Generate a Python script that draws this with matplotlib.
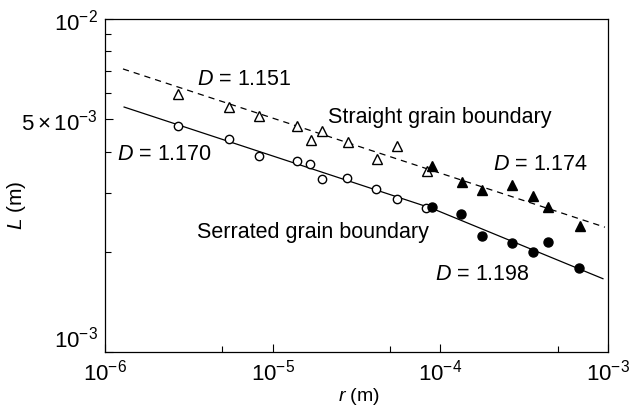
import matplotlib
matplotlib.use("Agg")
import matplotlib.pyplot as plt
from matplotlib.ticker import FixedLocator, NullFormatter, FixedFormatter

plt.rcParams['font.family'] = ['Liberation Sans', 'DejaVu Sans']
plt.rcParams['mathtext.fontset'] = 'custom'
plt.rcParams['mathtext.rm'] = 'Liberation Sans'
plt.rcParams['mathtext.it'] = 'Liberation Sans:italic'

# Straight grain boundary, open triangles
st_open_r = [2.72e-6, 5.49e-6, 8.28e-6, 1.40e-5, 1.69e-5, 1.97e-5, 2.81e-5, 4.19e-5, 5.51e-5, 8.32e-5]
st_open_L = [5.95e-3, 5.44e-3, 5.11e-3, 4.77e-3, 4.33e-3, 4.61e-3, 4.27e-3, 3.80e-3, 4.16e-3, 3.50e-3]
# Straight grain boundary, filled triangles
st_fill_r = [8.91e-5, 1.35e-4, 1.77e-4, 2.67e-4, 3.56e-4, 4.38e-4, 6.79e-4]
st_fill_L = [3.62e-3, 3.24e-3, 3.06e-3, 3.18e-3, 2.94e-3, 2.72e-3, 2.39e-3]
# Serrated grain boundary, open circles
se_open_r = [2.72e-6, 5.49e-6, 8.28e-6, 1.40e-5, 1.66e-5, 1.97e-5, 2.78e-5, 4.11e-5, 5.51e-5, 8.20e-5]
se_open_L = [4.77e-3, 4.36e-3, 3.88e-3, 3.75e-3, 3.67e-3, 3.31e-3, 3.33e-3, 3.09e-3, 2.88e-3, 2.71e-3]
# Serrated grain boundary, filled circles
se_fill_r = [8.91e-5, 1.33e-4, 1.77e-4, 2.67e-4, 3.56e-4, 4.38e-4, 6.70e-4]
se_fill_L = [2.72e-3, 2.60e-3, 2.23e-3, 2.12e-3, 2.00e-3, 2.14e-3, 1.79e-3]

# Fitted lines
fit_straight_r = [1.28e-6, 9.59e-4]
fit_straight_L = [7.08e-3, 2.37e-3]
fit_serrated_r = [1.30e-6, 8.91e-5, 9.33e-4]
fit_serrated_L = [5.44e-3, 2.70e-3, 1.66e-3]

fig = plt.figure(figsize=(6.38, 4.10), dpi=100)
ax = fig.add_axes([105/638, 57/410, 503/638, 333/410])

ax.plot(fit_straight_r, fit_straight_L, color='black', lw=0.9, ls=(0, (5, 4)))
ax.plot(fit_serrated_r, fit_serrated_L, color='black', lw=0.9, ls='-')

ax.plot(st_open_r, st_open_L, ls='none', marker='^', ms=7, mfc='white', mec='black', mew=1.0)
ax.plot(st_fill_r, st_fill_L, ls='none', marker='^', ms=7, mfc='black', mec='black', mew=1.0)
ax.plot(se_open_r, se_open_L, ls='none', marker='o', ms=6, mfc='white', mec='black', mew=1.0)
ax.plot(se_fill_r, se_fill_L, ls='none', marker='o', ms=6.5, mfc='black', mec='black', mew=1.0)

ax.set_xscale('log')
ax.set_yscale('log')
ax.set_xlim(1e-6, 1e-3)
ax.set_ylim(1e-3, 1e-2)

xmaj = [1e-6, 1e-5, 1e-4, 1e-3]
xmaj_labels = [r'$10^{-6}$', r'$10^{-5}$', r'$10^{-4}$', r'$10^{-3}$']
xmin = [5e-6, 5e-5, 5e-4]
ymaj = [1e-3, 5e-3, 1e-2]
ymaj_labels = [r'$10^{-3}$', r'$5\times10^{-3}$', r'$10^{-2}$']
ymin = [2e-3, 3e-3, 4e-3, 6e-3, 7e-3, 8e-3, 9e-3]

ax.xaxis.set_major_locator(FixedLocator(xmaj))
ax.xaxis.set_major_formatter(FixedFormatter(xmaj_labels))
ax.xaxis.set_minor_locator(FixedLocator(xmin))
ax.xaxis.set_minor_formatter(NullFormatter())
ax.yaxis.set_major_locator(FixedLocator(ymaj))
ax.yaxis.set_major_formatter(FixedFormatter(ymaj_labels))
ax.yaxis.set_minor_locator(FixedLocator(ymin))
ax.yaxis.set_minor_formatter(NullFormatter())

ax.tick_params(which='both', direction='in', top=False, right=False, labelsize=16, width=0.8)
ax.tick_params(which='major', length=6, pad=5)
ax.tick_params(which='minor', length=4)
for s in ax.spines.values():
    s.set_linewidth(0.9)

fig.canvas.draw()
ylabs = ax.get_yticklabels()
ylabs[0].set_va('bottom')

fs = 15.5
tk = dict(fontsize=fs, transform=fig.transFigure, va='center')
def fx(px):
    return px / 638
def fy(py):
    return 1 - py / 410

fig.text(fx(197), fy(80), r'$D$ = 1.151', ha='left', **tk)
fig.text(fx(117), fy(155), r'$D$ = 1.170', ha='left', **tk)
fig.text(fx(328), fy(117), 'Straight grain boundary', ha='left', **tk)
fig.text(fx(493), fy(165), r'$D$ = 1.174', ha='left', **tk)
fig.text(fx(197), fy(233), 'Serrated grain boundary', ha='left', **tk)
fig.text(fx(435), fy(275), r'$D$ = 1.198', ha='left', **tk)

fig.text(fx(17), fy(205), r'$L$ (m)', rotation=90, ha='center', fontsize=15, transform=fig.transFigure, va='center')
fig.text(fx(359), fy(397), r'$r$ (m)', ha='center', fontsize=14, transform=fig.transFigure, va='center')

fig.savefig('out.png', dpi=100)
